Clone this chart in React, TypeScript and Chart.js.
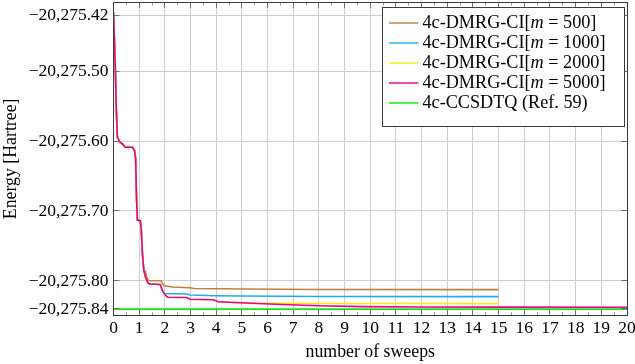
import React, { useEffect, useRef } from "react";
import { Chart, registerables } from "chart.js";

Chart.register(...registerables);

const FONT_FAMILY = '"Liberation Serif", "Times New Roman", serif';
const TICK_FONT_SIZE = 17.5;
const TITLE_FONT_SIZE = 17.8;
const LEGEND_FONT_SIZE = 18.2;

// ---- data (energies in Hartree vs. number of sweeps) ----
const m500Sweeps = [0, 0.07, 0.11, 0.15, 0.24, 0.3, 0.37, 0.45, 0.74, 0.82, 0.86, 0.9, 0.93, 1.04, 1.08, 1.13, 1.18, 1.24, 1.32, 1.4, 1.86, 1.95, 2.3, 2.95, 3.15, 5, 8, 15];
const m500Energy = [-20275.4167, -20275.4939, -20275.5557, -20275.5939, -20275.6014, -20275.6029, -20275.6047, -20275.609, -20275.609, -20275.6136, -20275.6243, -20275.6843, -20275.7129, -20275.7139, -20275.7243, -20275.7629, -20275.7843, -20275.7864, -20275.7979, -20275.7993, -20275.7996, -20275.8064, -20275.8086, -20275.8096, -20275.8107, -20275.8114, -20275.8121, -20275.8124];

const m1000Sweeps = [0, 0.07, 0.11, 0.15, 0.24, 0.3, 0.37, 0.45, 0.74, 0.82, 0.86, 0.9, 0.93, 1.04, 1.08, 1.13, 1.18, 1.24, 1.34, 1.41, 1.82, 1.92, 1.98, 2.85, 2.98, 4, 5, 8, 15];
const m1000Energy = [-20275.4167, -20275.4939, -20275.5557, -20275.5939, -20275.6014, -20275.6029, -20275.6047, -20275.609, -20275.609, -20275.6136, -20275.6243, -20275.6843, -20275.7129, -20275.7139, -20275.7243, -20275.7629, -20275.7843, -20275.7939, -20275.8024, -20275.8043, -20275.805, -20275.8143, -20275.8179, -20275.8186, -20275.82, -20275.821, -20275.8214, -20275.8221, -20275.8224];

const m2000Sweeps = [0, 0.07, 0.11, 0.15, 0.24, 0.3, 0.37, 0.45, 0.74, 0.82, 0.86, 0.9, 0.93, 1.04, 1.08, 1.13, 1.18, 1.24, 1.34, 1.41, 1.82, 1.92, 2.05, 2.12, 2.85, 2.98, 3.89, 4.08, 4.93, 5.6, 6.5, 10, 15];
const m2000Energy = [-20275.4167, -20275.4939, -20275.5557, -20275.5939, -20275.6014, -20275.6029, -20275.6047, -20275.609, -20275.609, -20275.6136, -20275.6243, -20275.6843, -20275.7129, -20275.7139, -20275.7243, -20275.7629, -20275.7843, -20275.7939, -20275.8024, -20275.8043, -20275.805, -20275.8153, -20275.8214, -20275.8233, -20275.8236, -20275.8261, -20275.8269, -20275.8296, -20275.831, -20275.8318, -20275.8319, -20275.8322, -20275.8324];

const m5000Sweeps = [0, 0.07, 0.11, 0.15, 0.24, 0.3, 0.37, 0.45, 0.74, 0.82, 0.86, 0.9, 0.93, 1.04, 1.08, 1.13, 1.18, 1.24, 1.34, 1.41, 1.82, 1.92, 2.05, 2.12, 2.85, 2.98, 3.89, 4.08, 4.93, 6.3, 8, 9.7, 12, 15, 20];
const m5000Energy = [-20275.4167, -20275.4939, -20275.5557, -20275.5939, -20275.6014, -20275.6029, -20275.6047, -20275.609, -20275.609, -20275.6136, -20275.6243, -20275.6843, -20275.7129, -20275.7139, -20275.7243, -20275.7629, -20275.7843, -20275.7939, -20275.8024, -20275.8043, -20275.805, -20275.8153, -20275.8214, -20275.8233, -20275.8236, -20275.8261, -20275.8269, -20275.8296, -20275.831, -20275.8333, -20275.8353, -20275.8367, -20275.8371, -20275.8374, -20275.8376];

const ccsdtqSweeps = [0, 20];
const ccsdtqEnergy = [-20275.8404, -20275.8404];

const seriesLabels = [
  "4c-DMRG-CI[m = 500]",
  "4c-DMRG-CI[m = 1000]",
  "4c-DMRG-CI[m = 2000]",
  "4c-DMRG-CI[m = 5000]",
  "4c-CCSDTQ (Ref. 59)",
];
const seriesColors = ["#bf8040", "#1eabf0", "#f7ec0c", "#ec008c", "#00ee00"];

const xTickValues = [0, 1, 2, 3, 4, 5, 6, 7, 8, 9, 10, 11, 12, 13, 14, 15, 16, 17, 18, 19, 20];
const yTickValues = [-20275.42, -20275.5, -20275.6, -20275.7, -20275.8, -20275.84];

const X_MIN = 0;
const X_MAX = 20;
const Y_MIN = -20275.8496;
const Y_MAX = -20275.4014;

const xTitle = "number of sweeps";
const yTitle = "Energy [Hartree]";

function formatEnergy(v: number): string {
  const s = Math.abs(v).toFixed(2);
  const [ip, dp] = s.split(".");
  const withComma = ip.replace(/\B(?=(\d{3})+(?!\d))/g, ",");
  return (v < 0 ? "\u2212" : "") + withComma + "." + dp;
}

function toPoints(xs: number[], ys: number[]) {
  return xs.map((x, i) => ({ x, y: ys[i] }));
}

const align = (p: number) => Math.round(p - 0.5) + 0.5;

function drawRichLabel(ctx: CanvasRenderingContext2D, label: string, x0: number, y: number) {
  const normal = `${LEGEND_FONT_SIZE}px ${FONT_FAMILY}`;
  const italic = `italic ${LEGEND_FONT_SIZE}px ${FONT_FAMILY}`;
  ctx.fillStyle = "#000";
  ctx.textAlign = "left";
  ctx.textBaseline = "middle";
  const idx = label.indexOf("[m ");
  if (idx < 0) {
    ctx.font = normal;
    ctx.fillText(label, x0, y);
    return;
  }
  const parts: [string, string][] = [
    [label.slice(0, idx + 1), normal],
    ["m", italic],
    [label.slice(idx + 2), normal],
  ];
  let x = x0;
  for (const [t, f] of parts) {
    ctx.font = f;
    ctx.fillText(t, x, y);
    x += ctx.measureText(t).width;
  }
}

const decorPlugin = {
  id: "decor",
  afterDatasetsDraw(chart: any) {
    const ctx: CanvasRenderingContext2D = chart.ctx;
    const { left, right, top, bottom } = chart.chartArea;
    const xs = chart.scales.x;
    const ys = chart.scales.y;
    const seg = (x1: number, y1: number, x2: number, y2: number) => {
      ctx.beginPath();
      ctx.moveTo(x1, y1);
      ctx.lineTo(x2, y2);
      ctx.stroke();
    };
    ctx.save();
    ctx.lineWidth = 1;
    // minor ticks
    ctx.strokeStyle = "#9a9a9a";
    for (let k = 0; k < xTickValues.length - 1; k++) {
      const px = align(xs.getPixelForValue((xTickValues[k] + xTickValues[k + 1]) / 2));
      seg(px, bottom, px, bottom - 3.5);
      seg(px, top, px, top + 3.5);
    }
    // major ticks
    ctx.strokeStyle = "#707070";
    for (const v of xTickValues) {
      const px = align(xs.getPixelForValue(v));
      seg(px, bottom, px, bottom - 6);
      seg(px, top, px, top + 6);
    }
    for (const v of yTickValues) {
      const py = align(ys.getPixelForValue(v));
      seg(left, py, left + 6, py);
      seg(right, py, right - 6, py);
    }
    // frame
    ctx.strokeStyle = "#3c3c3c";
    const fl = align(left), ft = align(top), fr = align(right), fb = align(bottom);
    ctx.strokeRect(fl, ft, fr - fl, fb - ft);

    // legend
    const boxW = 242;
    const boxH = 119;
    const boxRight = align(right - 2.5);
    const boxTop = align(top + 5.5);
    const boxLeft = boxRight - boxW;
    ctx.fillStyle = "#ffffff";
    ctx.fillRect(boxLeft, boxTop, boxW, boxH);
    ctx.strokeStyle = "#3c3c3c";
    ctx.strokeRect(boxLeft, boxTop, boxW, boxH);
    seriesLabels.forEach((label, i) => {
      const cy = boxTop + 15.5 + i * 20;
      ctx.strokeStyle = seriesColors[i];
      ctx.lineWidth = 1.4;
      seg(boxLeft + 6.5, cy, boxLeft + 36, cy);
      drawRichLabel(ctx, label, boxLeft + 40, cy);
    });
    ctx.restore();
  },
};

export default function App() {
  const ref = useRef<HTMLCanvasElement>(null);
  useEffect(() => {
    const canvas = ref.current;
    if (!canvas) return;
    const seriesData = [
      toPoints(m500Sweeps, m500Energy),
      toPoints(m1000Sweeps, m1000Energy),
      toPoints(m2000Sweeps, m2000Energy),
      toPoints(m5000Sweeps, m5000Energy),
      toPoints(ccsdtqSweeps, ccsdtqEnergy),
    ];
    const drawOrder = [3, 2, 1, 0, 4];
    const tickFont = { family: FONT_FAMILY, size: TICK_FONT_SIZE };
    const titleFont = { family: FONT_FAMILY, size: TITLE_FONT_SIZE };
    const chart = new Chart(canvas, {
      type: "line",
      data: {
        datasets: seriesData.map((d, i) => ({
          label: seriesLabels[i],
          data: d,
          borderColor: seriesColors[i],
          backgroundColor: seriesColors[i],
          borderWidth: 1.6,
          pointRadius: 0,
          tension: 0,
          fill: false,
          order: drawOrder[i],
        })),
      },
      options: {
        animation: false,
        responsive: false,
        maintainAspectRatio: false,
        devicePixelRatio: 1,
        layout: { padding: { left: 0, top: 2, right: 8, bottom: 0 } },
        plugins: {
          legend: { display: false },
          tooltip: { enabled: false },
        },
        scales: {
          x: {
            type: "linear",
            min: X_MIN,
            max: X_MAX,
            afterBuildTicks: (s: any) => {
              s.ticks = xTickValues.map((v) => ({ value: v }));
            },
            afterFit: (s: any) => {
              s.height = 48.3;
              s.paddingLeft = 0;
              s.paddingRight = 0;
            },
            ticks: {
              autoSkip: false,
              maxRotation: 0,
              minRotation: 0,
              padding: 2.2,
              color: "#000",
              font: tickFont,
              callback: (v: any) => String(v),
            },
            grid: { color: "#cfcfcf", lineWidth: 1, drawTicks: false },
            border: { display: false },
            title: {
              display: true,
              text: xTitle,
              color: "#000",
              font: titleFont,
              padding: { top: 0, bottom: 1 },
            },
          },
          y: {
            type: "linear",
            min: Y_MIN,
            max: Y_MAX,
            afterBuildTicks: (s: any) => {
              s.ticks = yTickValues.map((v) => ({ value: v }));
            },
            afterFit: (s: any) => {
              s.width = 113.5;
              s.paddingTop = 0;
              s.paddingBottom = 0;
            },
            ticks: {
              autoSkip: false,
              padding: 5,
              color: "#000",
              font: tickFont,
              callback: (v: any) => formatEnergy(Number(v)),
            },
            grid: { color: "#cfcfcf", lineWidth: 1, drawTicks: false },
            border: { display: false },
            title: {
              display: true,
              text: yTitle,
              color: "#000",
              font: titleFont,
              padding: { top: 1, bottom: 0 },
            },
          },
        },
      },
      plugins: [decorPlugin],
    } as any);
    return () => chart.destroy();
  }, []);
  return (
    <div style={{ position: "fixed", left: 0, top: 0, width: 635, height: 364, background: "#fff" }}>
      <canvas ref={ref} width={635} height={364} style={{ display: "block", width: 635, height: 364 }} />
    </div>
  );
}
